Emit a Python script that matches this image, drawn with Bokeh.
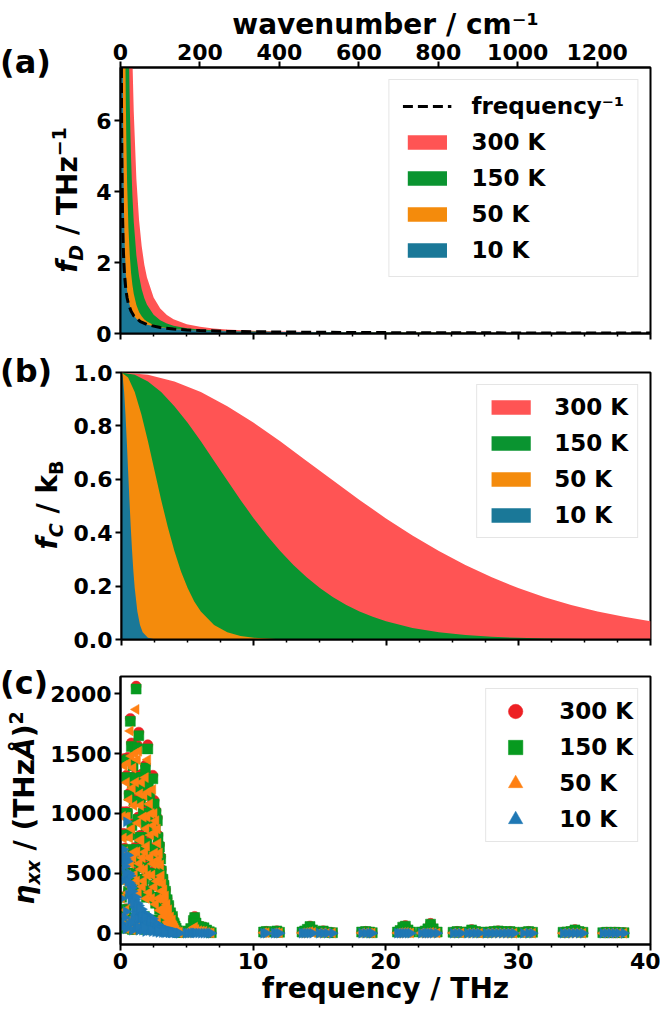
from math import pi
from bokeh.plotting import figure
from bokeh.layouts import column, row
from bokeh.models import (Range1d, LinearAxis, FixedTicker, Legend, LegendItem, Div,
                          PrintfTickFormatter, CustomJSTickFormatter)
from bokeh.embed import file_html
from bokeh.resources import INLINE

FONT = "DejaVu Sans"

# ---------------- panel (a): f_D (THz^-1) vs frequency (THz) ----------------
fa300_x = [0.0, 0.3, 0.5, 0.8, 0.9, 1.0, 1.2, 1.4, 1.6, 1.8, 2.0, 2.5, 3.0, 3.5, 4.0, 5.0, 6.0, 7.0, 8.0, 10, 12, 15, 20, 25, 30, 35, 40]
fa300_y = [999, 69.4, 25.0, 9.78, 7.73, 6.26, 4.35, 3.20, 2.46, 1.94, 1.576, 1.013, 0.708, 0.524, 0.404, 0.263, 0.187, 0.141, 0.111, 0.0753, 0.056, 0.040, 0.0271, 0.0207, 0.0169, 0.0144, 0.0125]
fa150_x = [0.0, 0.3, 0.5, 0.6, 0.7, 0.8, 0.9, 1.0, 1.2, 1.4, 1.6, 1.8, 2.0, 2.5, 3.0, 3.5, 4.0, 5.0, 6.0, 7.0, 8.0, 10, 12, 15, 20, 25, 30, 35, 40]
fa150_y = [999, 34.7, 12.53, 8.71, 6.41, 4.91, 3.88, 3.15, 2.197, 1.621, 1.247, 0.991, 0.808, 0.526, 0.3735, 0.281, 0.221, 0.1506, 0.112, 0.0884, 0.073, 0.0543, 0.0435, 0.0339, 0.0251, 0.0200, 0.0167, 0.0143, 0.0125]
fa50_x = [0.0, 0.2, 0.3, 0.35, 0.4, 0.45, 0.5, 0.6, 0.7, 0.8, 0.9, 1.0, 1.2, 1.4, 1.6, 1.8, 2.0, 2.5, 3.0, 3.5, 4.0, 5.0, 6.0, 7.0, 8.0, 10, 12, 15, 20, 25, 30, 35, 40]
fa50_y = [999, 26.1, 11.65, 8.58, 6.59, 5.22, 4.247, 2.973, 2.205, 1.707, 1.365, 1.1205, 0.802, 0.609, 0.484, 0.398, 0.336, 0.240, 0.1865, 0.1531, 0.1305, 0.1017, 0.0839, 0.0716, 0.0626, 0.050, 0.0417, 0.0333, 0.025, 0.020, 0.0167, 0.0143, 0.0125]
fa10_x = [0.0, 0.05, 0.07, 0.1, 0.15, 0.2, 0.25, 0.3, 0.4, 0.5, 0.6, 0.8, 1.0, 1.2, 1.5, 2.0, 3.0, 4.0, 5.0, 6.0, 8.0, 10, 15, 20, 30, 40]
fa10_y = [999, 83.7, 42.9, 21.2, 9.66, 5.60, 3.72, 2.70, 1.679, 1.1995, 0.9325, 0.652, 0.508, 0.419, 0.334, 0.25, 0.1667, 0.125, 0.1, 0.0833, 0.0625, 0.05, 0.0333, 0.025, 0.0167, 0.0125]
finv_x = [0.06, 0.08, 0.1, 0.15, 0.2, 0.25, 0.3, 0.4, 0.5, 0.6, 0.8, 1.0, 1.5, 2.0, 3, 4, 5, 6, 8, 10, 15, 20, 30, 40]
finv_y = [8.33, 6.25, 5.0, 3.33, 2.5, 2.0, 1.667, 1.25, 1.0, 0.833, 0.625, 0.5, 0.333, 0.25, 0.1667, 0.125, 0.1, 0.0833, 0.0625, 0.05, 0.0333, 0.025, 0.0167, 0.0125]

# ---------------- panel (b): f_C / k_B ----------------
fc300_x = [0, 2, 4, 6, 8, 10, 12, 14, 16, 18, 20, 22, 24, 26, 28, 30, 32, 34, 36, 38, 40]
fc300_y = [1.0, 0.9915, 0.9665, 0.9266, 0.8740, 0.8114, 0.7421, 0.6690, 0.5951, 0.5226, 0.4536, 0.3895, 0.3310, 0.2787, 0.2327, 0.1928, 0.1585, 0.1295, 0.1052, 0.0850, 0.0683]
fc150_x = [0, 1, 2, 3, 4, 5, 6, 7, 8, 9, 10, 11, 12, 13, 14, 15, 16, 17, 18, 19, 20, 22, 24, 26, 28, 30, 32, 35, 40]
fc150_y = [1.0, 0.9915, 0.9665, 0.9266, 0.8740, 0.8114, 0.7421, 0.6690, 0.5951, 0.5226, 0.4536, 0.3895, 0.3310, 0.2787, 0.2327, 0.1928, 0.1585, 0.1295, 0.1052, 0.0850, 0.0683, 0.0435, 0.0273, 0.0169, 0.0103, 0.0062, 0.0038, 0.0017, 0.0005]
fc50_x = [0, 0.5, 1, 1.5, 2, 2.5, 3, 3.5, 4, 4.5, 5, 5.5, 6, 7, 8, 9, 10, 12, 14, 40]
fc50_y = [1.0, 0.981, 0.9266, 0.8438, 0.7421, 0.632, 0.5226, 0.4209, 0.331, 0.2549, 0.1928, 0.1427, 0.1052, 0.0546, 0.0273, 0.0132, 0.0062, 0.0013, 0.0003, 0.0]
fc10_x = [0, 0.1, 0.2, 0.3, 0.4, 0.5, 0.6, 0.7, 0.8, 0.9, 1.0, 1.2, 1.4, 1.6, 2.0, 2.5, 3.0, 40]
fc10_y = [1.0, 0.981, 0.9266, 0.8438, 0.7421, 0.632, 0.5226, 0.4209, 0.331, 0.2549, 0.1928, 0.1052, 0.0546, 0.0273, 0.0062, 0.0009, 0.0001, 0.0]

# ---------------- panel (c): eta_xx per mode ----------------
c1_f = [0.05, 0.08, 0.12, 0.15, 0.20, 0.22, 0.28, 0.32, 0.38, 0.42, 0.45, 0.48,
        0.52, 0.56, 0.60, 0.65, 0.70, 0.74, 0.78, 0.82, 0.86, 0.90, 0.95, 0.98,
        1.02, 1.06, 1.10, 1.15, 1.18, 1.22, 1.28, 1.32, 1.38, 1.42, 1.46,
        1.52, 1.56, 1.60, 1.66, 1.72, 1.78, 1.82, 1.88, 1.93, 1.97,
        2.02, 2.06, 2.10, 2.15, 2.20, 2.28, 2.32, 2.38, 2.44, 2.48,
        2.54, 2.58, 2.62, 2.68, 2.72, 2.78, 2.83, 2.88, 2.94, 2.98,
        3.03, 3.08, 3.14, 3.20, 3.28, 3.34, 3.40, 3.46, 3.52, 3.58, 3.64, 3.70,
        3.78, 3.85, 3.92, 3.98, 4.05, 4.12, 4.20, 4.30, 4.40]
c1_300 = [630, 305, 82, 1015, 458, 835, 1460, 712, 1015, 204, 1320, 488,
          1015, 1470, 356, 1168, 832, 1795, 610, 1590, 915, 1270, 1420, 254,
          1125, 715, 1580, 1325, 2065, 460, 1570, 970, 1680, 612, 1225,
          1125, 818, 1330, 410, 1022, 1270, 565, 1405, 920, 768,
          1022, 1575, 1270, 665, 1178, 870, 1075, 512, 1320, 975,
          1110, 718, 902, 1025, 615, 965, 820, 668, 738, 492,
          640, 535, 392, 462, 412, 310, 360, 258, 290, 208, 238, 156,
          176, 125, 146, 94, 84, 63, 43, 22, 6]
c1_150 = [620, 300, 80, 1000, 450, 820, 1440, 700, 1000, 200, 1300, 480,
          1000, 1450, 350, 1150, 820, 1770, 600, 1560, 900, 1250, 1400, 250,
          1100, 700, 1550, 1300, 2040, 450, 1540, 950, 1650, 600, 1200,
          1100, 800, 1300, 400, 1000, 1240, 550, 1380, 900, 750,
          1000, 1540, 1240, 650, 1150, 850, 1050, 500, 1290, 950,
          1080, 700, 880, 1000, 600, 940, 800, 650, 720, 480,
          620, 520, 380, 450, 400, 300, 350, 250, 280, 200, 230, 150,
          170, 120, 140, 90, 80, 60, 40, 20, 5]
c1_50 = [605, 293, 78, 975, 437, 795, 1400, 680, 970, 194, 1260, 465,
         970, 1420, 340, 1115, 795, 1690, 582, 1480, 873, 1212, 1380, 242,
         1067, 679, 1500, 1261, 1870, 436, 1450, 921, 1520, 582, 1164,
         1067, 776, 1261, 388, 970, 1150, 533, 1300, 873, 727,
         970, 1450, 1180, 630, 1080, 820, 1000, 485, 1200, 900,
         1000, 670, 840, 940, 575, 870, 750, 615, 670, 450,
         570, 480, 350, 410, 360, 270, 310, 220, 240, 170, 195, 125,
         135, 100, 110, 70, 58, 42, 27, 12, 3]
c1_10 = [600, 290, 78, 650, 440, 700, 640, 560, 620, 180, 930, 460,
         600, 650, 320, 500, 420, 480, 280, 400, 380, 350, 300, 120,
         300, 250, 280, 220, 300, 150, 250, 200, 230, 150, 180,
         180, 140, 200, 100, 150, 150, 90, 160, 130, 110,
         140, 150, 130, 90, 120, 100, 110, 70, 120, 90,
         90, 70, 80, 80, 60, 70, 70, 60, 60, 50,
         50, 45, 40, 40, 35, 30, 30, 25, 25, 20, 20, 15,
         15, 12, 12, 10, 8, 6, 4, 2, 0]
c2_f = [0.35, 0.55, 0.75, 0.95, 1.05, 1.25, 1.35, 1.45, 1.55, 1.65, 1.75, 1.85, 1.95, 2.05, 2.15,
        2.25, 2.35, 2.45, 2.55, 2.65, 2.75, 2.85, 2.95, 3.05, 3.15, 3.25, 3.35, 3.55, 3.65, 3.85]
c2_300 = [612, 510, 408, 663, 510, 714, 357, 816, 561, 663, 459, 714, 306, 510, 357,
          663, 306, 612, 408, 255, 459, 306, 204, 306, 204, 153, 184, 102, 82, 61]
c2_150 = [600, 500, 400, 650, 500, 700, 350, 800, 550, 650, 450, 700, 300, 500, 350,
          650, 300, 600, 400, 250, 450, 300, 200, 300, 200, 150, 180, 100, 80, 60]
c2_50 = [585, 487, 390, 632, 486, 680, 340, 777, 534, 630, 436, 678, 290, 484, 339,
         628, 290, 579, 386, 241, 434, 289, 192, 288, 192, 143, 171, 94, 75, 55]
c2_10 = [500, 430, 350, 250, 180, 220, 110, 200, 130, 140, 90, 130, 60, 90, 60,
         100, 50, 80, 50, 35, 50, 35, 25, 30, 20, 15, 15, 10, 8, 5]
c3_f = [0.15, 0.4, 0.65, 0.9, 1.15, 1.4, 1.65, 1.9, 2.15, 2.4, 2.65, 2.9, 3.15, 3.4, 3.65, 3.9, 4.15, 4.45,
        0.3, 0.8, 1.3, 1.8, 2.3, 2.8, 3.3, 3.8]
c3_300 = [61, 41, 82, 31, 61, 41, 51, 31, 61, 41, 51, 31, 41, 31, 31, 21, 21, 11, 153, 123, 102, 143, 92, 112, 62, 41]
c3_150 = [60, 40, 80, 30, 60, 40, 50, 30, 60, 40, 50, 30, 40, 30, 30, 20, 20, 10, 150, 120, 100, 140, 90, 110, 60, 40]
c3_50 = [59, 39, 78, 29, 58, 38, 48, 29, 57, 38, 47, 28, 37, 28, 27, 18, 18, 8, 146, 116, 96, 134, 86, 104, 56, 36]
c3_10 = [55, 35, 70, 25, 45, 25, 25, 14, 22, 14, 12, 6, 6, 4, 3, 2, 1, 0, 130, 90, 55, 45, 25, 15, 6, 3]
c4_f = [4.95, 5.1, 5.3, 5.5, 5.6, 5.7, 5.9, 6.1, 6.3, 6.5, 6.7, 6.85]
c4_300 = [10, 20, 40, 110, 140, 90, 60, 55, 50, 30, 15, 5]
c4_150 = [9, 18, 38, 105, 130, 85, 55, 50, 45, 26, 12, 4]
c4_50 = [4, 8, 15, 40, 50, 30, 20, 18, 15, 6, 3, 1]
c4_10 = [0, 0, 1, 2, 2, 1, 1, 0, 0, 0, 0, 0]
c5_f = [10.8, 11.0, 11.6, 11.8, 12.0,
        13.7, 13.9, 14.1, 14.3, 14.5, 15.0, 15.3, 15.6, 16.0,
        18.2, 18.5, 18.8, 19.0,
        20.9, 21.1, 21.3, 21.5, 21.7, 21.9,
        22.7, 23.0, 23.2, 23.4, 23.6, 23.9,
        25.1, 25.4, 25.7,
        26.2, 26.5, 26.8, 27.1,
        27.6, 27.9, 28.2, 28.5, 28.8, 29.1, 29.4, 29.7,
        30.4, 30.8, 31.1,
        33.4, 33.7, 34.0, 34.3, 34.6, 34.9,
        36.4, 36.7, 37.0, 37.3, 37.6, 38.0]
c5_300 = [10, 15, 10, 20, 8,
          10, 20, 35, 60, 30, 10, 20, 8, 5,
          10, 15, 10, 5,
          10, 25, 55, 64, 30, 10,
          10, 20, 40, 82, 40, 10,
          8, 15, 8,
          10, 30, 15, 8,
          8, 10, 15, 20, 15, 10, 15, 8,
          8, 15, 8,
          8, 10, 15, 30, 15, 8,
          5, 8, 5, 8, 5, 5]
c5_150 = [9, 14, 9, 18, 7,
          9, 18, 32, 55, 27, 9, 18, 7, 4,
          9, 13, 9, 4,
          9, 22, 50, 58, 27, 9,
          9, 18, 36, 75, 36, 9,
          7, 13, 7,
          9, 27, 13, 7,
          7, 9, 13, 18, 13, 9, 13, 7,
          7, 13, 7,
          7, 9, 13, 27, 13, 7,
          4, 7, 4, 7, 4, 4]
c5_50 = [3, 4, 2, 5, 2,
         2, 4, 8, 12, 6, 2, 3, 1, 1,
         2, 3, 2, 1,
         1, 3, 5, 6, 3, 1,
         1, 2, 3, 6, 3, 1,
         1, 1, 1,
         1, 2, 1, 0,
         0, 1, 1, 1, 1, 0, 1, 0,
         0, 1, 0,
         0, 0, 1, 2, 1, 0,
         0, 0, 0, 0, 0, 0]
c5_10 = [0] * 60

mode_f = c1_f + c2_f + c3_f + c4_f + c5_f
eta_300 = c1_300 + c2_300 + c3_300 + c4_300 + c5_300
eta_150 = c1_150 + c2_150 + c3_150 + c4_150 + c5_150
eta_50 = c1_50 + c2_50 + c3_50 + c4_50 + c5_50
eta_10 = c1_10 + c2_10 + c3_10 + c4_10 + c5_10

temps = ["300 K", "150 K", "50 K", "10 K"]
FILL = ["#ff5454", "#0a9430", "#f48b0c", "#1a7898"]
MK = ["#ed2024", "#079a1f", "#ff8012", "#1f78b5"]

XMAJ = [0, 10, 20, 30, 40]
XMIN = [2.5, 5, 7.5, 12.5, 15, 17.5, 22.5, 25, 27.5, 32.5, 35, 37.5]
TOTAL_W = 660


def side(width, height, tag, tag_top, label_html, cx, cy):
    html = (
        f"<div style=\"position:relative;width:{width}px;height:{height}px;"
        f"font-family:'DejaVu Sans';font-weight:bold;color:black;\">"
        f"<div style=\"position:absolute;left:0px;top:{tag_top}px;transform:translateY(-50%);"
        f"font-size:32px;line-height:1;white-space:nowrap;\">{tag}</div>"
        f"<div style=\"position:absolute;left:{cx}px;top:{cy}px;"
        f"transform:translate(-50%,-50%) rotate(-90deg);font-size:28px;line-height:1;"
        f"white-space:nowrap;\">{label_html}</div></div>"
    )
    return Div(text=html, width=width, height=height, margin=(0, 0, 0, 0))


def sub(s, italic=True):
    inner = f"<i>{s}</i>" if italic else s
    return f"<span style=\"font-size:19px;position:relative;top:6px;\">{inner}</span>"


def sup(s):
    return f"<span style=\"font-size:19px;position:relative;top:-11px;\">{s}</span>"


def base_fig(width, height, left, top, bottom, yr):
    p = figure(width=width, height=height, x_range=Range1d(0, 40), y_range=Range1d(*yr),
               output_backend="svg", toolbar_location=None,
               min_border_left=left, min_border_right=10, min_border_top=top, min_border_bottom=bottom)
    p.grid.visible = False
    p.outline_line_color = "black"
    p.outline_line_width = 2
    p.outline_line_alpha = 1
    p.background_fill_color = "white"
    p.border_fill_color = "white"
    return p


def style_axis(ax, show=True):
    ax.axis_line_width = 2
    ax.axis_line_color = "black"
    ax.major_tick_line_width = 2
    ax.minor_tick_line_width = 1.5
    ax.major_tick_out = 6
    ax.major_tick_in = 0
    ax.minor_tick_out = 3
    ax.minor_tick_in = 0
    ax.major_label_text_font = FONT
    ax.major_label_text_font_style = "bold"
    ax.major_label_text_font_size = "22px"
    ax.major_label_text_color = "black"
    ax.major_label_standoff = 3
    ax.axis_label_text_font = FONT
    ax.axis_label_text_font_style = "bold"
    ax.axis_label_text_font_size = "28px"
    ax.axis_label_text_color = "black"
    ax.axis_label_standoff = 0
    if not show:
        ax.formatter = CustomJSTickFormatter(code="return ''")


def legend(p, items, gw, gh, spacing, padding, standoff):
    lg = Legend(items=items, location="top_right", margin=12, padding=padding,
                glyph_width=gw, glyph_height=gh, spacing=spacing, label_standoff=standoff,
                label_text_font=FONT, label_text_font_style="bold", label_text_font_size="23px",
                label_text_color="black",
                border_line_color="#cccccc", border_line_width=1.5, background_fill_alpha=0.85)
    p.add_layout(lg)


# ---------------- (a) ----------------
HA = 352
LA = 90
pa = base_fig(TOTAL_W - LA, HA, 120 - LA, 67, 19, (0, 7.5))
rs_a = []
for xs, ys, c in zip([fa300_x, fa150_x, fa50_x, fa10_x], [fa300_y, fa150_y, fa50_y, fa10_y], FILL):
    rs_a.append(pa.varea(x=xs, y1=0, y2=ys, fill_color=c))
dash = pa.line(finv_x, finv_y, line_color="black", line_width=3, line_dash="10 5")
pa.extra_x_ranges = {"wn": Range1d(0, 40 * 33.356)}
top_ax = LinearAxis(x_range_name="wn", ticker=FixedTicker(ticks=[0, 200, 400, 600, 800, 1000, 1200]),
                    axis_label="wavenumber / cm⁻¹")
pa.add_layout(top_ax, "above")
style_axis(top_ax)
top_ax.major_label_standoff = 2
bot_a = pa.below[0]
bot_a.ticker = FixedTicker(ticks=XMAJ, minor_ticks=XMIN)
style_axis(bot_a, show=False)
left_a = pa.left[0]
left_a.ticker = FixedTicker(ticks=[0, 2, 4, 6])
style_axis(left_a)
legend(pa, [LegendItem(label="frequency⁻¹", renderers=[dash])] +
       [LegendItem(label=t, renderers=[r]) for t, r in zip(temps, rs_a)],
       49, 18, 10, 13, 20)
sa = side(LA, HA, "(a)", 62, "<i>f</i>" + sub("D") + " / THz" + sup("−1"), 68, 200)

# ---------------- (b) ----------------
HB = 306
LB = 70
pb = base_fig(TOTAL_W - LB, HB, 120 - LB, 20, 19, (0, 1.0))
rs_b = []
for xs, ys, c in zip([fc300_x, fc150_x, fc50_x, fc10_x], [fc300_y, fc150_y, fc50_y, fc10_y], FILL):
    rs_b.append(pb.varea(x=xs, y1=0, y2=ys, fill_color=c))
bot_b = pb.below[0]
bot_b.ticker = FixedTicker(ticks=XMAJ, minor_ticks=XMIN)
style_axis(bot_b, show=False)
left_b = pb.left[0]
left_b.ticker = FixedTicker(ticks=[0, 0.2, 0.4, 0.6, 0.8, 1.0])
left_b.formatter = PrintfTickFormatter(format="%.1f")
style_axis(left_b)
legend(pb, [LegendItem(label=t, renderers=[r]) for t, r in zip(temps, rs_b)],
       49, 18, 10, 9, 19)
sb = side(LB, HB, "(b)", 19, "<i>f</i>" + sub("C") + " / k" + sub("B", False), 48, 153)

# ---------------- (c) ----------------
HC = 354
LC = 46
pc = base_fig(TOTAL_W - LC, HC, 120 - LC, 18, 68, (-95, 2145))
markers = ["circle", "square", "triangle", "triangle"]
angles = [0.0, 0.0, pi / 2, -pi / 2]
rs_c = []
for ys, m, a, c in zip([eta_300, eta_150, eta_50, eta_10], markers, angles, MK):
    rs_c.append(pc.scatter(mode_f, ys, marker=m, angle=a, size=10, fill_color=c, line_color=c, line_width=0.5))
bot_c = pc.below[0]
bot_c.ticker = FixedTicker(ticks=XMAJ, minor_ticks=XMIN)
bot_c.axis_label = "frequency / THz"
style_axis(bot_c)
bot_c.major_label_standoff = 2
left_c = pc.left[0]
left_c.ticker = FixedTicker(ticks=[0, 500, 1000, 1500, 2000])
style_axis(left_c)
legend(pc, [LegendItem(label=t, renderers=[r]) for t, r in zip(temps, rs_c)],
       50, 36, 0, 4, 19)
sc = side(LC, HC, "(c)", 25, "<i>η</i>" + sub("xx") + " / (THz<i>Å</i>)" + sup("2"), 25, 150)

layout = column(row(sa, pa, spacing=0), row(sb, pb, spacing=0), row(sc, pc, spacing=0), spacing=0)
open("out.html", "w").write(file_html(layout, INLINE))
